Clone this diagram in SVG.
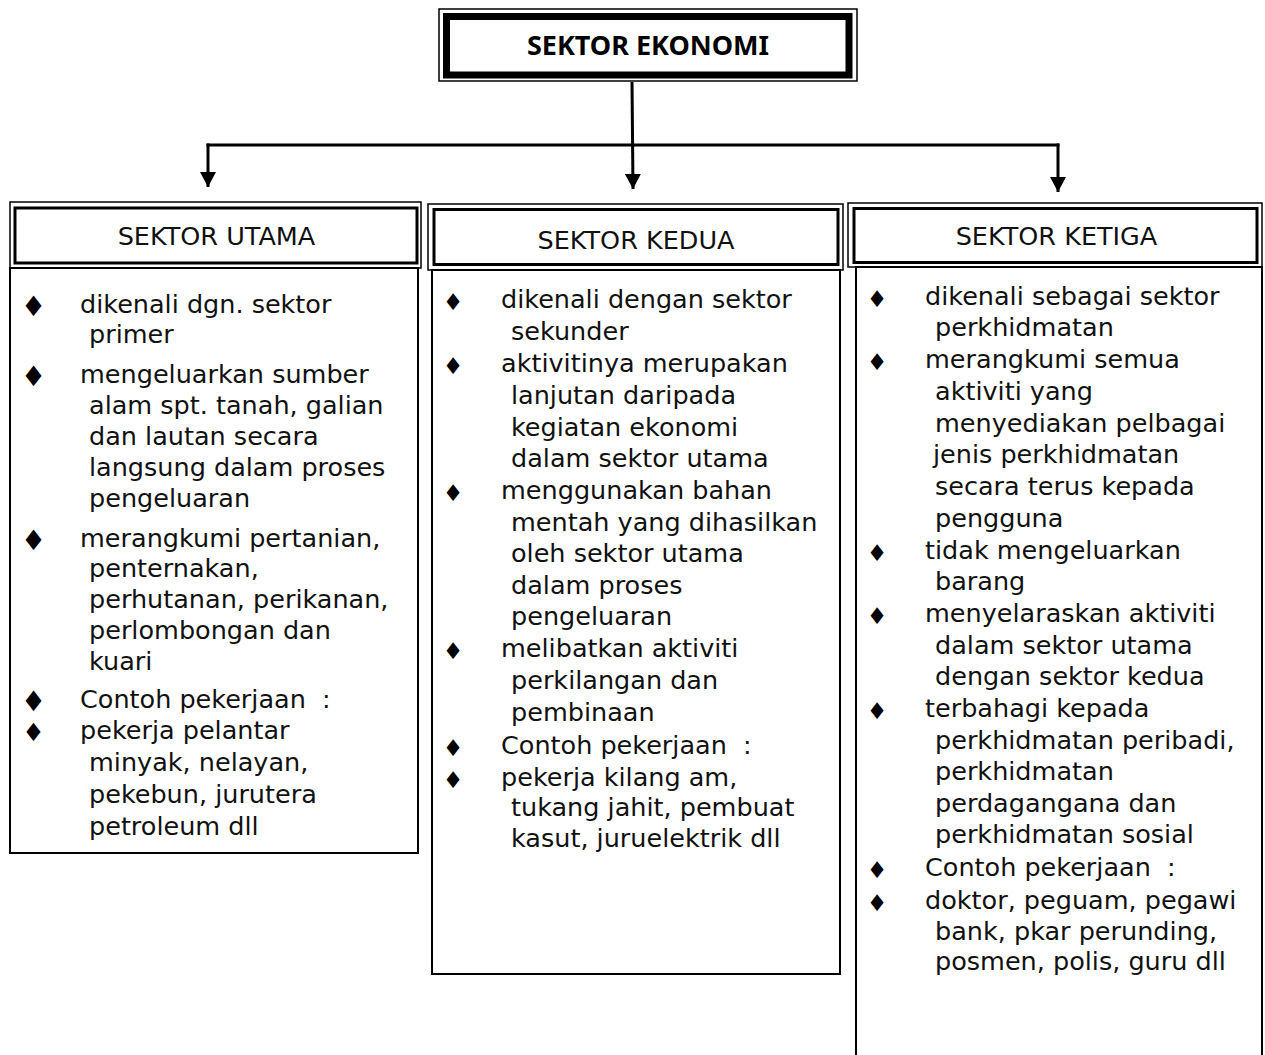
<svg xmlns="http://www.w3.org/2000/svg" width="1265" height="1055" viewBox="0 0 1265 1055">
<style>
.t{font-family:"DejaVu Sans","Liberation Sans",sans-serif;font-size:25.5px;fill:#111}
.h{font-family:"DejaVu Sans","Liberation Sans",sans-serif;font-size:25.5px;fill:#111;text-anchor:middle}
.ttl{font-family:"Noto Sans","DejaVu Sans",sans-serif;font-size:27px;font-weight:bold;fill:#000;text-anchor:middle}
.bl{font-family:"DejaVu Sans",sans-serif;font-size:28px;fill:#000;text-anchor:middle}
.bm{font-family:"DejaVu Sans",sans-serif;font-size:25px;fill:#000;text-anchor:middle}
.bs{font-family:"DejaVu Sans",sans-serif;font-size:23px;fill:#000;text-anchor:middle}
.thin{fill:none;stroke:#000;stroke-width:1.5}
.mid{fill:none;stroke:#000;stroke-width:3}
.box{fill:none;stroke:#000;stroke-width:2}
.con{fill:none;stroke:#000;stroke-width:3}
</style>
<defs>
<marker id="arr" markerUnits="userSpaceOnUse" markerWidth="15" markerHeight="16" viewBox="0 0 15 16" refX="15" refY="8" orient="auto">
<path d="M0,0 L15,8 L0,16 z" fill="#000"/>
</marker>
</defs>
<rect width="1265" height="1055" fill="#fff"/>

<g id="connectors">
<line class="con" x1="632" y1="82" x2="633" y2="189" marker-end="url(#arr)"/>
<line class="con" x1="206.5" y1="145" x2="1059.5" y2="145"/>
<line class="con" x1="208" y1="143.5" x2="208" y2="187" marker-end="url(#arr)"/>
<line class="con" x1="1058" y1="143.5" x2="1058" y2="192" marker-end="url(#arr)"/>
</g>

<g id="sektor-ekonomi">
<rect class="thin" x="439" y="9" width="418" height="72"/>
<rect x="446.5" y="16.5" width="402.5" height="58.5" fill="none" stroke="#000" stroke-width="7"/>
<text class="ttl" x="648" y="55">SEKTOR EKONOMI</text>
</g>

<g id="sektor-utama">
<rect class="thin" x="10" y="202" width="411" height="66"/>
<rect class="mid" x="15" y="208" width="402" height="55"/>
<text class="h" x="216.5" y="245">SEKTOR UTAMA</text>
<rect class="box" x="10" y="268" width="408" height="585"/>
<text class="bl" x="33.5" y="316">♦</text>
<text class="bl" x="33.5" y="386">♦</text>
<text class="bl" x="33.5" y="550">♦</text>
<text class="bl" x="33.5" y="711">♦</text>
<text class="bm" x="33.5" y="741">♦</text>
<text class="t" x="80" y="313">dikenali dgn. sektor</text>
<text class="t" x="89" y="343">primer</text>
<text class="t" x="80" y="383">mengeluarkan sumber</text>
<text class="t" x="89" y="414">alam spt. tanah, galian</text>
<text class="t" x="89" y="445">dan lautan secara</text>
<text class="t" x="89" y="476">langsung dalam proses</text>
<text class="t" x="89" y="507">pengeluaran</text>
<text class="t" x="80" y="547">merangkumi pertanian,</text>
<text class="t" x="89" y="577">penternakan,</text>
<text class="t" x="89" y="608">perhutanan, perikanan,</text>
<text class="t" x="89" y="639">perlombongan dan</text>
<text class="t" x="89" y="670">kuari</text>
<text class="t" x="80" y="708" xml:space="preserve">Contoh pekerjaan  :</text>
<text class="t" x="80" y="739">pekerja pelantar</text>
<text class="t" x="89" y="771">minyak, nelayan,</text>
<text class="t" x="89" y="803">pekebun, jurutera</text>
<text class="t" x="89" y="835">petroleum dll</text>
</g>

<g id="sektor-kedua">
<rect class="thin" x="428" y="204" width="415" height="66"/>
<rect class="mid" x="434" y="209.5" width="404" height="55"/>
<text class="h" x="636" y="249">SEKTOR KEDUA</text>
<rect class="box" x="432" y="270" width="408" height="704"/>
<text class="bs" x="453" y="310">♦</text>
<text class="bs" x="453" y="374">♦</text>
<text class="bs" x="453" y="501">♦</text>
<text class="bs" x="453" y="659">♦</text>
<text class="bs" x="453" y="756">♦</text>
<text class="bs" x="453" y="788">♦</text>
<text class="t" x="501" y="308">dikenali dengan sektor</text>
<text class="t" x="511" y="340">sekunder</text>
<text class="t" x="501" y="372">aktivitinya merupakan</text>
<text class="t" x="511" y="404">lanjutan daripada</text>
<text class="t" x="511" y="436">kegiatan ekonomi</text>
<text class="t" x="511" y="467">dalam sektor utama</text>
<text class="t" x="501" y="499">menggunakan bahan</text>
<text class="t" x="511" y="531">mentah yang dihasilkan</text>
<text class="t" x="511" y="562">oleh sektor utama</text>
<text class="t" x="511" y="594">dalam proses</text>
<text class="t" x="511" y="625">pengeluaran</text>
<text class="t" x="501" y="657">melibatkan aktiviti</text>
<text class="t" x="511" y="689">perkilangan dan</text>
<text class="t" x="511" y="721">pembinaan</text>
<text class="t" x="501" y="754" xml:space="preserve">Contoh pekerjaan  :</text>
<text class="t" x="501" y="786">pekerja kilang am,</text>
<text class="t" x="511" y="816">tukang jahit, pembuat</text>
<text class="t" x="511" y="847">kasut, juruelektrik dll</text>
</g>

<g id="sektor-ketiga">
<rect class="thin" x="848" y="203" width="414" height="64"/>
<rect class="mid" x="854" y="208.5" width="403" height="54"/>
<text class="h" x="1056.5" y="245">SEKTOR KETIGA</text>
<path class="box" d="M856,1060 L856,267 L1262,267 L1262,1060"/>
<text class="bs" x="877" y="307">♦</text>
<text class="bs" x="877" y="370">♦</text>
<text class="bs" x="877" y="561">♦</text>
<text class="bs" x="877" y="624">♦</text>
<text class="bs" x="877" y="719">♦</text>
<text class="bs" x="877" y="878">♦</text>
<text class="bs" x="877" y="911">♦</text>
<text class="t" x="925" y="305">dikenali sebagai sektor</text>
<text class="t" x="935" y="336">perkhidmatan</text>
<text class="t" x="925" y="368">merangkumi semua</text>
<text class="t" x="935" y="400">aktiviti yang</text>
<text class="t" x="935" y="432">menyediakan pelbagai</text>
<text class="t" x="933" y="463">jenis perkhidmatan</text>
<text class="t" x="935" y="495">secara terus kepada</text>
<text class="t" x="935" y="527">pengguna</text>
<text class="t" x="925" y="559">tidak mengeluarkan</text>
<text class="t" x="935" y="590">barang</text>
<text class="t" x="925" y="622">menyelaraskan aktiviti</text>
<text class="t" x="935" y="654">dalam sektor utama</text>
<text class="t" x="935" y="685">dengan sektor kedua</text>
<text class="t" x="925" y="717">terbahagi kepada</text>
<text class="t" x="935" y="749">perkhidmatan peribadi,</text>
<text class="t" x="935" y="780">perkhidmatan</text>
<text class="t" x="935" y="812">perdagangana dan</text>
<text class="t" x="935" y="843">perkhidmatan sosial</text>
<text class="t" x="925" y="876" xml:space="preserve">Contoh pekerjaan  :</text>
<text class="t" x="925" y="909">doktor, peguam, pegawi</text>
<text class="t" x="935" y="940">bank, pkar perunding,</text>
<text class="t" x="935" y="970">posmen, polis, guru dll</text>
</g>
</svg>
